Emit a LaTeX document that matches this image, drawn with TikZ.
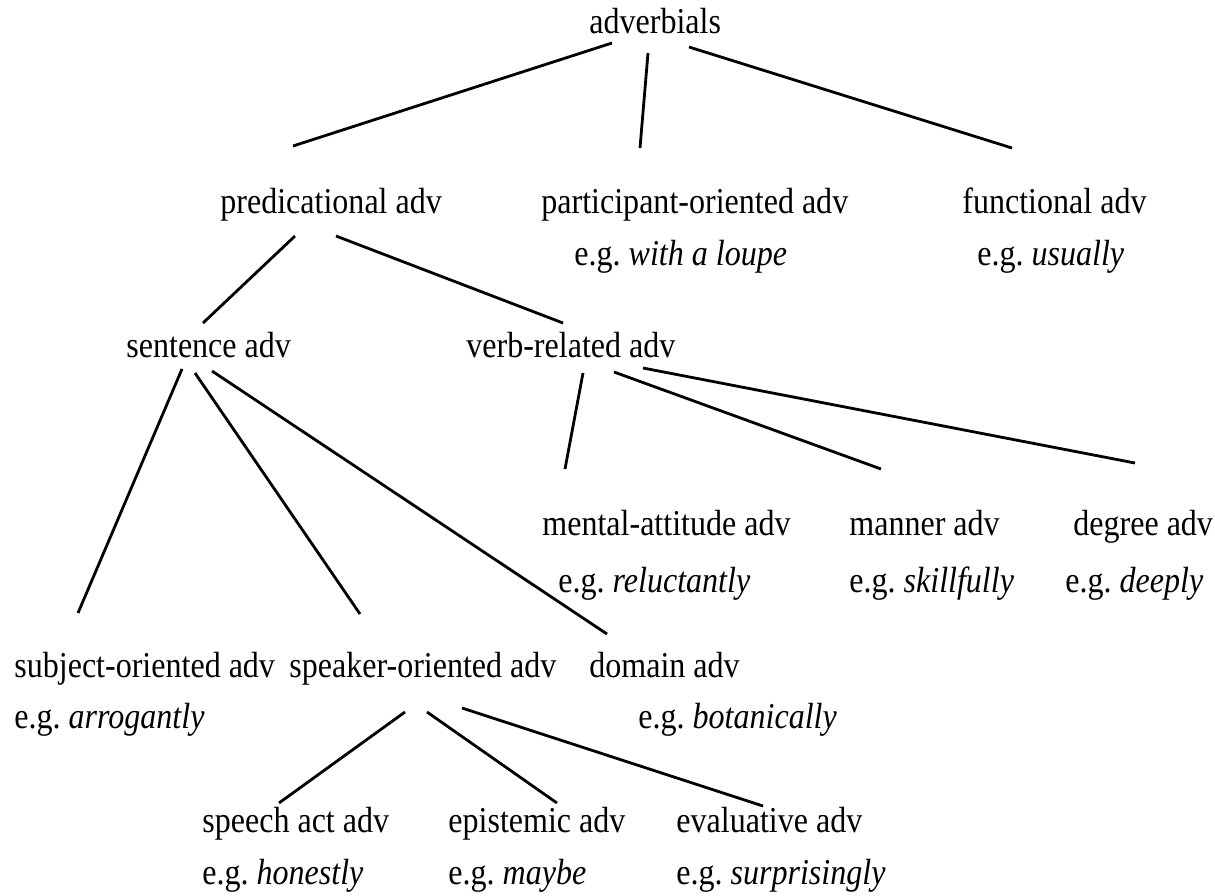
\documentclass[tikz,border=0pt]{standalone}
\usepackage{fontspec}
\setmainfont{Liberation Serif}[FakeStretch=0.88]
\usetikzlibrary{calc}
\begin{document}
\begin{tikzpicture}[x=0.5pt,y=-0.5pt,
	lab/.style={inner sep=0pt,anchor=base west,font=\fontsize{18.2}{21}\selectfont},
	branch/.style={line width=1.4pt}]
	\useasboundingbox (0,0) rectangle (1215,895);
	% top level
	\node[lab] (adverbials) at (589,33) {adverbials};
	% second level
	\node[lab] (pred) at (220,213) {predicational adv};
	\node[lab] (part) at (541,213) {participant-oriented adv};
	\node[lab] (partex) at (574,265) {e.g.\ \textit{with a loupe}};
	\node[lab] (func) at (962,213) {functional adv};
	\node[lab] (funcex) at (977,265) {e.g.\ \textit{usually}};
	% third level
	\node[lab] (sent) at (126,357) {sentence adv};
	\node[lab] (verb) at (466,357) {verb-related adv};
	% verb-related adverbials
	\node[lab] (mental) at (542,535) {mental-attitude adv};
	\node[lab] (mentalex) at (558,592) {e.g.\ \textit{reluctantly}};
	\node[lab] (manner) at (849,535) {manner adv};
	\node[lab] (mannerex) at (849,592) {e.g.\ \textit{skillfully}};
	\node[lab] (degree) at (1073,535) {degree adv};
	\node[lab] (degreeex) at (1065,592) {e.g.\ \textit{deeply}};
	% sentence adverbials
	\node[lab] (subj) at (14,677) {subject-oriented adv};
	\node[lab] (subjex) at (14,728) {e.g.\ \textit{arrogantly}};
	\node[lab] (speaker) at (289,677) {speaker-oriented adv};
	\node[lab] (domain) at (589,677) {domain adv};
	\node[lab] (domainex) at (638,728) {e.g.\ \textit{botanically}};
	% speaker-oriented adverbials
	\node[lab] (speech) at (202,832) {speech act adv};
	\node[lab] (speechex) at (202,884) {e.g.\ \textit{honestly}};
	\node[lab] (epist) at (448,832) {epistemic adv};
	\node[lab] (epistex) at (448,884) {e.g.\ \textit{maybe}};
	\node[lab] (eval) at (676,832) {evaluative adv};
	\node[lab] (evalex) at (676,884) {e.g.\ \textit{surprisingly}};
	% branches
	\foreach \a/\sa/\b/\sb in {
		adverbials/{23,10}/pred/{73,-67},
		adverbials/{59,20}/part/{99,-65},
		adverbials/{100,14}/func/{50,-65},
		pred/{75,23}/sent/{77,-34},
		pred/{116,23}/verb/{97,-34},
		sent/{56,12}/subj/{64,-64},
		sent/{69,16}/speaker/{71,-63},
		sent/{86,14}/domain/{18,-43},
		verb/{117,16}/mental/{23,-66},
		verb/{148,15}/manner/{32,-66},
		verb/{177,11}/degree/{62,-72},
		speaker/{116,35}/speech/{77,-29},
		speaker/{138,35}/epist/{109,-29},
		speaker/{173,31}/eval/{87,-26}} {
		\draw[branch] ($(\a.base west)+(\sa)$) -- ($(\b.base west)+(\sb)$);
	}
\end{tikzpicture}
\end{document}
